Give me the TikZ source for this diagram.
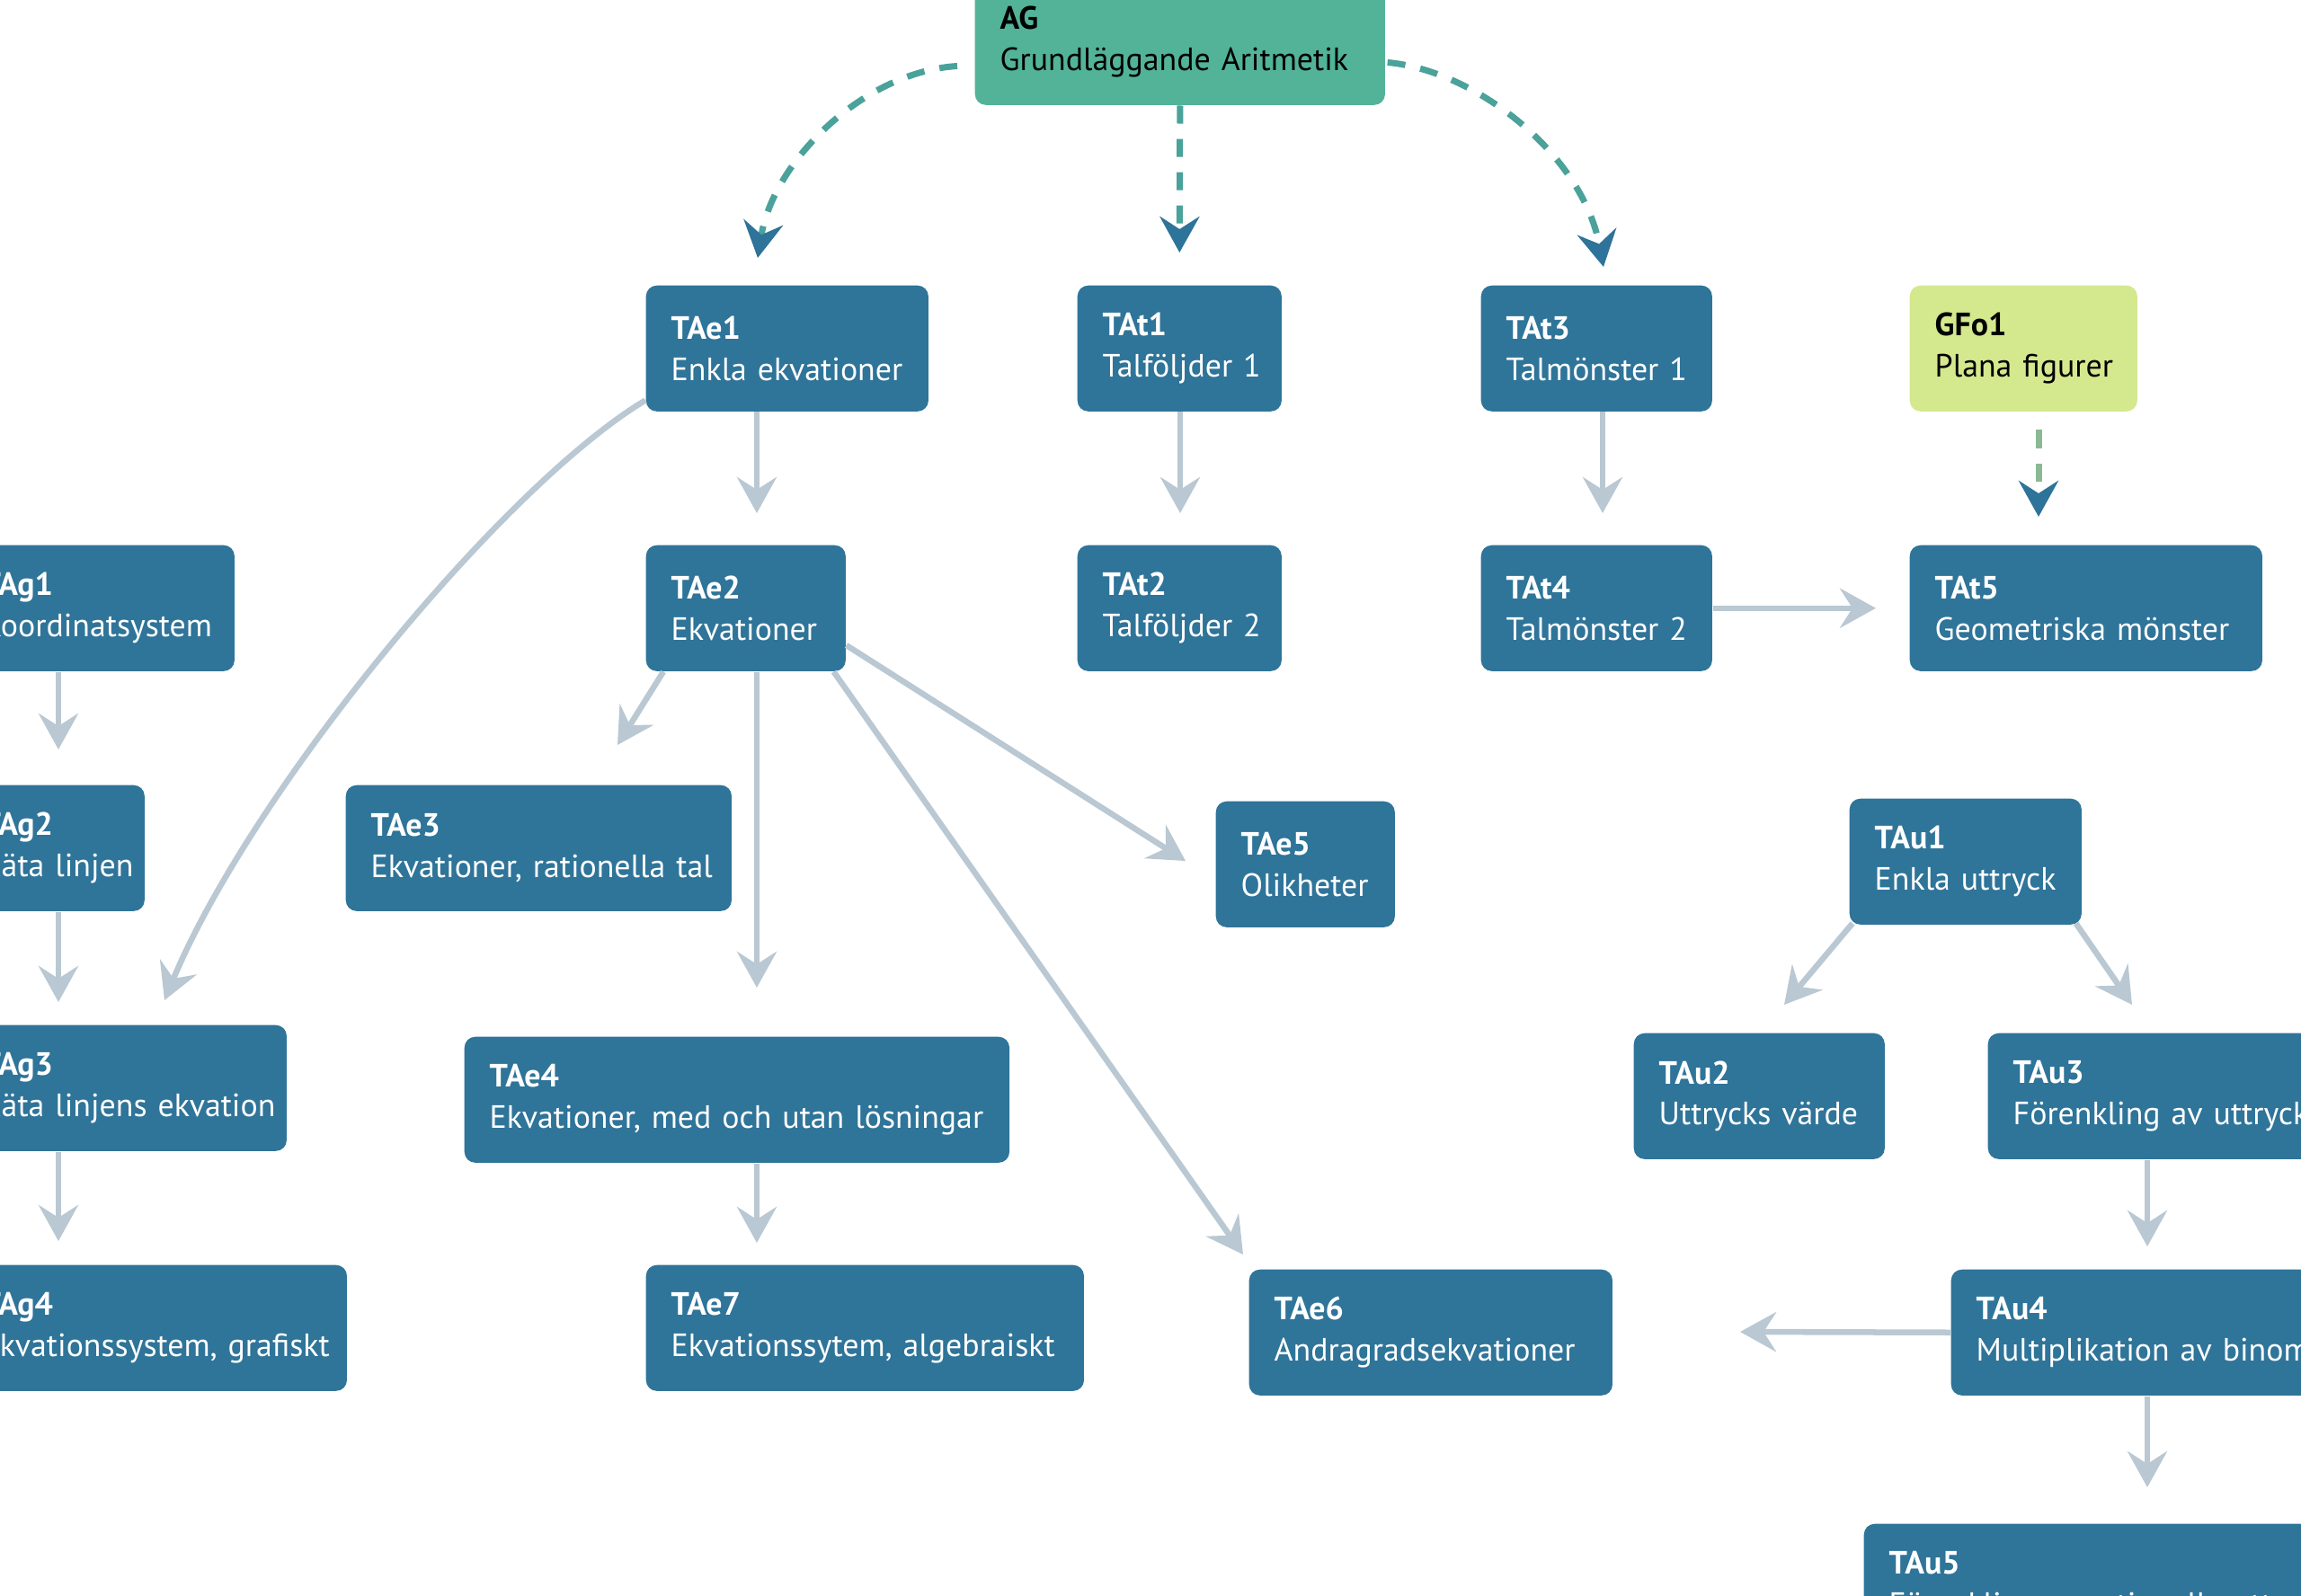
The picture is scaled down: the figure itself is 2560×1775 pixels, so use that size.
\documentclass[tikz,border=0pt]{standalone}
\usepackage{fontspec}
\setmainfont{PT Sans}
\usetikzlibrary{arrows.meta,calc}
\definecolor{boxblue}{HTML}{2F7499}
\definecolor{aggreen}{HTML}{52B398}
\definecolor{lightgreen}{HTML}{D4E88E}
\definecolor{arrowgray}{HTML}{B9C8D2}
\definecolor{dashteal}{HTML}{4AA29A}
\definecolor{dashgreen}{HTML}{8DB894}
\definecolor{tipblue}{HTML}{2E7399}
\newcommand\topictext[2]{\mbox{\textbf{#1}}\\\mbox{#2}}
\tikzset{
  topic/.style={anchor=north west, rounded corners=0.12cm, fill=boxblue, text=white,
    align=left, inner xsep=0.28cm, inner ysep=0pt, minimum height=1.4cm,
    font=\fontsize{10.2}{13}\selectfont},
  greentopic/.style={topic, fill=aggreen, text=black},
  limetopic/.style={topic, fill=lightgreen, text=black},
  link/.style={draw=arrowgray, line width=0.065cm,
    -{Stealth[length=0.4cm,width=0.44cm,inset=0.14cm]}},
  dlink/.style={draw=dashteal, line width=0.07cm, dash pattern=on 0.2cm off 0.17cm,
    -{Stealth[length=0.4cm,width=0.44cm,inset=0.14cm,color=tipblue]}},
}
\begin{document}
\begin{tikzpicture}[x=0.01cm,y=-0.01cm]
\useasboundingbox (0,0) rectangle (2560,1775);
\clip (0,0) rectangle (2560,1775);

% top
\node[greentopic, minimum width=4.56cm, text width=4.00cm] (AG) at (1084,-24) {\topictext{AG}{Grundläggande Aritmetik}};

% row 1
\node[topic, minimum width=3.14cm, text width=2.58cm] (TAe1) at (718,317) {\topictext{TAe1}{Enkla ekvationer}};
\node[topic, minimum width=2.27cm, text width=1.71cm] (TAt1) at (1198,317) {\topictext{TAt1}{Talföljder 1}};
\node[topic, minimum width=2.57cm, text width=2.01cm] (TAt3) at (1647,317) {\topictext{TAt3}{Talmönster 1}};
\node[limetopic, minimum width=2.53cm, text width=1.97cm] (GFo1) at (2124,317) {\topictext{GFo1}{Plana figurer}};

% row 2
\node[topic, minimum width=3.08cm, text width=2.52cm] (TAg1) at (-48,606) {\topictext{TAg1}{Koordinatsystem}};
\node[topic, minimum width=2.22cm, text width=1.66cm] (TAe2) at (718,606) {\topictext{TAe2}{Ekvationer}};
\node[topic, minimum width=2.27cm, text width=1.71cm] (TAt2) at (1198,606) {\topictext{TAt2}{Talföljder 2}};
\node[topic, minimum width=2.57cm, text width=2.01cm] (TAt4) at (1647,606) {\topictext{TAt4}{Talmönster 2}};
\node[topic, minimum width=3.92cm, text width=3.36cm] (TAt5) at (2124,606) {\topictext{TAt5}{Geometriska mönster}};

% row 3
\node[topic, minimum width=2.08cm, text width=1.52cm] (TAg2) at (-48,873) {\topictext{TAg2}{Räta linjen}};
\node[topic, minimum width=4.29cm, text width=3.73cm] (TAe3) at (384,873) {\topictext{TAe3}{Ekvationer, rationella tal}};
\node[topic, minimum width=1.99cm, text width=1.43cm] (TAe5) at (1352,891) {\topictext{TAe5}{Olikheter}};
\node[topic, minimum width=2.58cm, text width=2.02cm] (TAu1) at (2057,888) {\topictext{TAu1}{Enkla uttryck}};

% row 4
\node[topic, minimum width=3.66cm, text width=3.10cm] (TAg3) at (-48,1140) {\topictext{TAg3}{Räta linjens ekvation}};
\node[topic, minimum width=6.06cm, text width=5.50cm] (TAe4) at (516,1153) {\topictext{TAe4}{Ekvationer, med och utan lösningar}};
\node[topic, minimum width=2.79cm, text width=2.23cm] (TAu2) at (1817,1149) {\topictext{TAu2}{Uttrycks värde}};
\node[topic, minimum width=4.00cm, text width=3.44cm] (TAu3) at (2211,1149) {\topictext{TAu3}{Förenkling av uttryck}};

% row 5
\node[topic, minimum width=4.33cm, text width=3.77cm] (TAg4) at (-48,1407) {\topictext{TAg4}{Ekvationssystem, grafiskt}};
\node[topic, minimum width=4.87cm, text width=4.31cm] (TAe7) at (718,1407) {\topictext{TAe7}{Ekvationssytem, algebraiskt}};
\node[topic, minimum width=4.04cm, text width=3.48cm] (TAe6) at (1389,1412) {\topictext{TAe6}{Andragradsekvationer}};
\node[topic, minimum width=4.80cm, text width=4.24cm] (TAu4) at (2170,1412) {\topictext{TAu4}{Multiplikation av binomer}};

% row 6
\node[topic, minimum width=5.60cm, text width=5.04cm] (TAu5) at (2073,1695) {\topictext{TAu5}{Förenkling av rationella uttryck}};

\coordinate (free) at (1936,1482);

% dashed prerequisite links
\draw[dlink] ($(AG.south west)+(-19,-44)$) .. controls (960,80) and (860,180) .. ($(TAe1.north west)+(125,-30)$);
\draw[dlink] (AG.south) -- ($(TAt1.north)+(0,-36)$);
\draw[dlink] ($(AG.south east)+(2,-48)$) .. controls (1640,78) and (1760,170) .. ($(TAt3.north west)+(137,-20)$);
\draw[dlink, draw=dashgreen] ($(GFo1.south west)+(144,20)$) -- ($(TAt5.north west)+(144,-31)$);

% gray links
\draw[link] ($(TAe1.south west)+(124,0)$) -- ($(TAe2.north west)+(124,-35)$);
\draw[link] ($(TAt1.south west)+(115,0)$) -- ($(TAt2.north west)+(115,-35)$);
\draw[link] ($(TAt3.south west)+(136,0)$) -- ($(TAt4.north west)+(136,-35)$);
\draw[link] (TAt4.east) -- ($(TAt5.west)+(-37,0)$);
\draw[link] ($(TAe1.south west)+(0,-13)$) .. controls (560,540) and (280,880) .. ($(TAg3.north west)+(231,-27)$);
\draw[link] ($(TAe2.south west)+(20,0)$) -- ($(TAe3.north west)+(303,-44)$);
\draw[link] ($(TAe2.south west)+(124,0)$) -- ($(TAe4.north west)+(326,-54)$);
\draw[link] ($(TAe2.north east)+(0,112)$) -- ($(TAe5.north west)+(-33,67)$);
\draw[link] ($(TAe2.south east)+(-14,0)$) -- ($(TAe6.north west)+(-6,-16)$);
\draw[link] ($(TAe4.south west)+(326,0)$) -- ($(TAe7.north west)+(124,-24)$);
\draw[link] ($(TAg1.south west)+(113,0)$) -- ($(TAg2.north west)+(113,-39)$);
\draw[link] ($(TAg2.south west)+(113,0)$) -- ($(TAg3.north west)+(113,-25)$);
\draw[link] ($(TAg3.south west)+(113,0)$) -- ($(TAg4.north west)+(113,-26)$);
\draw[link] ($(TAu1.south west)+(4,-2)$) -- ($(TAu2.north west)+(168,-31)$);
\draw[link] ($(TAu1.south east)+(-7,-2)$) -- ($(TAu3.north west)+(161,-31)$);
\draw[link] ($(TAu3.south west)+(178,0)$) -- ($(TAu4.north west)+(219,-25)$);
\draw[link] (TAu4.west) -- (free);
\draw[link] ($(TAu4.south west)+(219,0)$) -- ($(TAu5.north west)+(316,-40)$);
\end{tikzpicture}
\end{document}
